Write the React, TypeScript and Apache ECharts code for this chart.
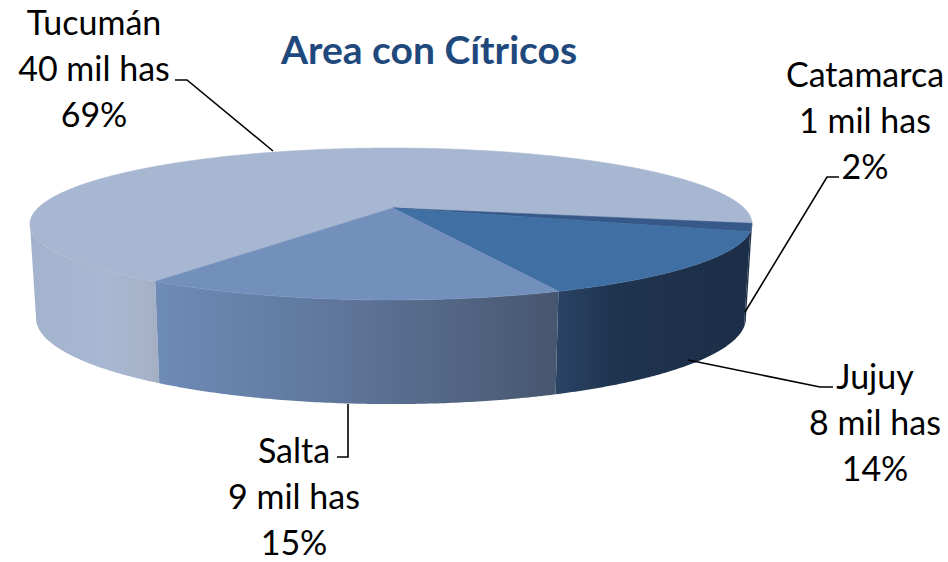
import React, { useEffect, useRef } from "react";
import * as echarts from "echarts";

const provinces = ["Tucumán", "Catamarca", "Jujuy", "Salta"];
const areaThousandHa = [40, 1, 8, 9];
const percentLabels = ["69%", "2%", "14%", "15%"];
const chartTitle = "Area con Cítricos";

const topColors = ["#a7b7d1", "#37598a", "#406fa3", "#7390bc"];
const wallStops: [number, string][][] = [
  [[0, "#a3b3cd"], [0.6, "#a8b8d2"], [0.85, "#a6b3ca"], [1, "#a5afc3"]],
  [[0, "#1c2f49"], [1, "#1c2f49"]],
  [[0, "#2a4365"], [0.3, "#1f344f"], [1, "#1c2e48"]],
  [[0, "#6e8bb7"], [0.5, "#5d7497"], [1, "#47566f"]],
];
const labelCentres = [[94, 21.5], [865, 73.5], [875, 375.5], [294, 449]];
const leaderLines = [
  [[175, 80], [187, 80], [273, 151]],
  [[839, 177], [827, 177], [745, 312]],
  [[833, 387], [820, 387], [688, 360]],
  [[348, 404], [348, 457], [337, 457]],
];

const START_DEG = 123.4;
const total = areaThousandHa.reduce((a, b) => a + b, 0);
const P = 0.2105;
const apex = [393, 208];
const topRim = { cx: 391, cy: 208, b: 353, a: 72.6 };
const botRim = { cx: 391, cy: 300, b: 347, a: 82.2 };

function project(r: typeof topRim, deg: number) {
  const t = (deg * Math.PI) / 180;
  const u = Math.cos(t);
  const v = Math.sin(t);
  const s = 1 / (1 - P * v);
  return [r.cx + r.b * u * s, r.cy + r.a * v * s];
}
function arcPts(r: typeof topRim, a: number, b: number) {
  const n = Math.max(2, Math.ceil(Math.abs(b - a) * 2));
  const out: number[][] = [];
  for (let i = 0; i <= n; i++) out.push(project(r, a + ((b - a) * i) / n));
  return out;
}

function renderItem(params: any, api: any) {
  const idx = params.dataIndex;
  let before = 0;
  for (let i = 0; i < idx; i++) before += areaThousandHa[i];
  const a0 = START_DEG + (before / total) * 360;
  const a1 = a0 + (api.value(0) / total) * 360;
  const children: any[] = [];
  const WL = 12;
  const WR = 168;
  for (const off of [0, -360]) {
    const s = Math.max(a0 + off, WL);
    const e = Math.min(a1 + off, WR);
    if (e > s) {
      const pts = [...arcPts(topRim, s, e), ...arcPts(botRim, e, s)];
      children.push({
        type: "polygon",
        shape: { points: pts },
        style: {
          fill: new echarts.graphic.LinearGradient(
            0, 0, 1, 0,
            wallStops[idx].map(([o, c]) => ({ offset: o, color: c }))
          ),
          stroke: null,
        },
      });
    }
  }
  const top = [apex, ...arcPts(topRim, a0, a1)];
  children.push({
    type: "polygon",
    shape: { points: top },
    style: { fill: topColors[idx], stroke: topColors[idx], lineWidth: 0.6 },
  });
  return { type: "group", children };
}

export default function App() {
  const ref = useRef<HTMLDivElement>(null);
  useEffect(() => {
    const chart = echarts.init(ref.current!, null, { renderer: "svg" });
    chart.setOption({
      animation: false,
      backgroundColor: "#ffffff",
      title: {
        text: chartTitle,
        left: 424,
        top: 24,
        textAlign: "center",
        textStyle: { fontFamily: "Lato", fontWeight: "bold", fontSize: 39, color: "#1f497d" },
      },
      series: [
        {
          type: "custom",
          coordinateSystem: "none",
          renderItem,
          data: areaThousandHa.map((v) => [v]),
          silent: true,
          z: 1,
        },
      ],
      graphic: [
        ...leaderLines.map((pts) => ({
          type: "polyline",
          shape: { points: pts },
          style: { stroke: "#000", lineWidth: 1.6, fill: null },
          z: 5,
        })),
        ...provinces.flatMap((name, i) =>
          [name, `${areaThousandHa[i]} mil has`, percentLabels[i]].map((line, j) => ({
            type: "text",
            x: labelCentres[i][0],
            y: labelCentres[i][1] + j * 46,
            style: {
              text: line,
              fontFamily: "Lato",
              fontSize: 34,
              fill: "#000",
              align: "center",
              verticalAlign: "middle",
            },
            z: 6,
          }))
        ),
      ],
    });
    return () => chart.dispose();
  }, []);
  return <div ref={ref} style={{ position: "fixed", left: 0, top: 0, width: 948, height: 562 }} />;
}
